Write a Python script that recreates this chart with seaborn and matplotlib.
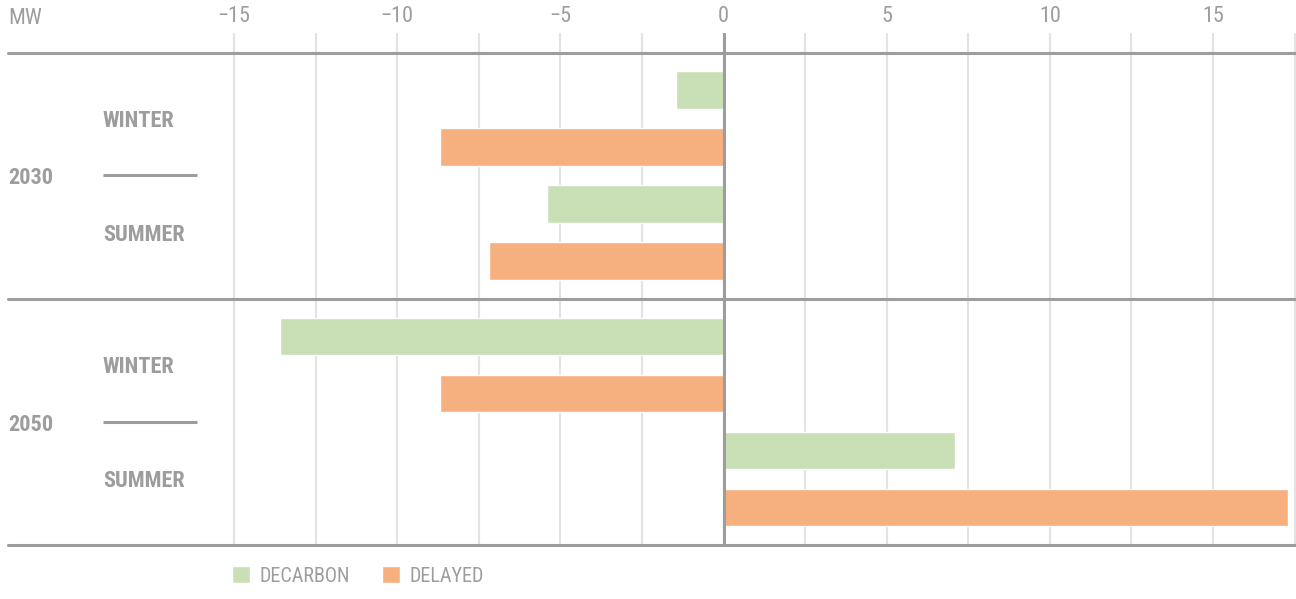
import pandas as pd
import seaborn as sns
import matplotlib.pyplot as plt
import matplotlib.transforms as mtransforms
from matplotlib import font_manager as fm

# data (MW)
years = ["2030", "2050"]
seasons = ["WINTER", "SUMMER"]
scenarios = ["DECARBON", "DELAYED"]
decarbon = [-1.45, -5.4, -13.6, 7.1]   # 2030 W, 2030 S, 2050 W, 2050 S
delayed = [-8.7, -7.2, -8.7, 17.3]
x_ticks = [-15, -10, -5, 0, 5, 10, 15]

colors = {"DECARBON": "#c9dfb6", "DELAYED": "#f6af7e"}
grey = "#9d9d9d"

# layout: row positions (season spacing 2, extra gap between years)
year_gap = 0.32
pos = []
for i, y in enumerate(years):
    for j, s in enumerate(seasons):
        pos.append(i * (4 + year_gap) + j * 2)

rows = []
for k, p in enumerate(pos):
    rows.append({"pos": p, "scenario": "DECARBON", "value": decarbon[k]})
    rows.append({"pos": p, "scenario": "DELAYED", "value": delayed[k]})
df = pd.DataFrame(rows)

sns.set_style("white")

# narrow font if available
names = {f.name for f in fm.fontManager.ttflist}
if "Roboto Condensed" in names:
    plt.rcParams["font.family"] = ["Roboto Condensed", "DejaVu Sans"]
else:
    plt.rcParams["font.family"] = ["DejaVu Sans"]

fig = plt.figure(figsize=(12.96, 5.99), dpi=100)
W, H = 1296, 599
left_px, top_px, bot_px = 185.1, 33, 545
ax = fig.add_axes([left_px / W, 1 - bot_px / H, 1 - left_px / W, (bot_px - top_px) / H])

sns.barplot(data=df, x="value", y="pos", hue="scenario", hue_order=scenarios,
            orient="y", native_scale=True, width=1, gap=0.35,
            palette=colors, saturation=1, ax=ax, zorder=2)

handles, labels = ax.get_legend_handles_labels()
ax.get_legend().remove()

ax.set_xlim(-16.5, 17.545)
ax.set_ylim(7.4825, -1.5)
ax.set_xticks(x_ticks)
ax.set_xticks([-12.5, -7.5, -2.5, 2.5, 7.5, 12.5, 17.5], minor=True)
ax.xaxis.tick_top()
ax.tick_params(axis="x", which="both", length=0, pad=4, labelsize=16, labelcolor=grey)
ax.set_xticklabels([str(t).replace("-", "\u2212") for t in x_ticks])
ax.set_yticks([])
ax.set_xlabel("")
ax.set_ylabel("")
ax.grid(axis="x", which="both", color="#e3e3e3", lw=1.5, zorder=0)
ax.set_axisbelow(True)
for sp in ax.spines.values():
    sp.set_visible(False)

ax.axvline(0, color=grey, lw=2.2, zorder=4)

# separator lines across full width
x_full = (8 - left_px) / (W - left_px)
ax.axhline(-1.15, xmin=x_full, xmax=1, color=grey, lw=2.2, clip_on=False, zorder=5)
ax.axhline((pos[1] + pos[2]) / 2, xmin=x_full, xmax=1, color=grey, lw=2.2, clip_on=False, zorder=5)
ax.axhline(7.4825, xmin=x_full, xmax=1, color=grey, lw=2.2, clip_on=False, zorder=5)

trans = mtransforms.blended_transform_factory(ax.transAxes, ax.transData)
x_season = (103 - left_px) / (W - left_px)
x_short_end = (197 - left_px) / (W - left_px)
for i, y in enumerate(years):
    mid = (pos[2 * i] + pos[2 * i + 1]) / 2
    ax.text(x_full, mid + 0.05, y, transform=trans, ha="left", va="center",
            fontsize=16, fontweight="bold", color=grey)
    ax.plot([x_season, x_short_end], [mid, mid], transform=trans, color=grey,
            lw=2.2, clip_on=False, solid_capstyle="butt")
    for j, s in enumerate(seasons):
        ax.text(x_season, pos[2 * i + j] + 0.045, s, transform=trans, ha="left",
                va="center", fontsize=16, fontweight="bold", color=grey)

fig.text(8 / W, 1 - 19 / H, "MW", ha="left", va="center", fontsize=16, color=grey)

leg = fig.legend(handles, labels, loc="center left", bbox_to_anchor=(214 / W, 1 - 576 / H),
                 ncol=2, frameon=False, fontsize=14.5, handlelength=0.9, handleheight=0.9,
                 handletextpad=0.45, columnspacing=1.6)
for t in leg.get_texts():
    t.set_color(grey)

fig.savefig("out.png", dpi=100)
